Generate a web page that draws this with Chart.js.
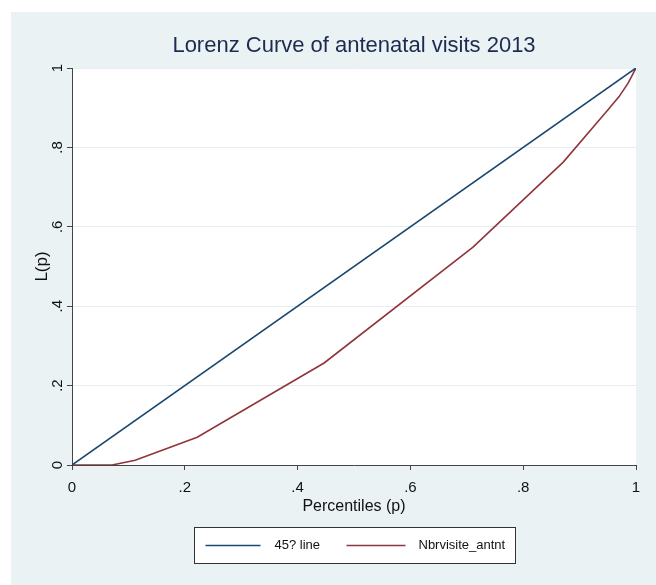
<!DOCTYPE html>
<html>
<head>
<meta charset="utf-8">
<script src="https://cdn.jsdelivr.net/npm/chart.js@4"></script>
<style>
  html, body { margin: 0; padding: 0; background: #ffffff; }
  #wrap { width: 656px; height: 585px; }
</style>
</head>
<body>
<div id="wrap"><canvas id="myChart"></canvas></div>
<script>
// data
const lineP = [0, 1];
const lineL = [0, 1];
const lorenzP = [0, 0.071, 0.112, 0.222, 0.447, 0.711, 0.871, 0.950, 0.970, 0.986, 1];
const lorenzL = [0, 0, 0.012, 0.070, 0.257, 0.549, 0.763, 0.894, 0.928, 0.962, 1];
const seriesNames = ['45? line', 'Nbrvisite_antnt'];
const tickVals = [0, 0.2, 0.4, 0.6, 0.8, 1];
const chartTitle = 'Lorenz Curve of antenatal visits 2013';

const FONT = "'Liberation Sans', Arial, sans-serif";

function fmt(v) {
    if (v === 0) return '0';
    if (v === 1) return '1';
    return String(Math.round(v * 10) / 10).replace(/^0/, '');
}

const data = {
    datasets: [{
            label: seriesNames[0],
            data: lineP.map((p, i) => ({ x: p, y: lineL[i] })),
            borderColor: '#1a476f',
            borderWidth: 1.6,
            showLine: true,
            pointRadius: 0,
            tension: 0
        },
        {
            label: seriesNames[1],
            data: lorenzP.map((p, i) => ({ x: p, y: lorenzL[i] })),
            borderColor: '#90353b',
            borderWidth: 1.6,
            showLine: true,
            pointRadius: 0,
            tension: 0
        }
    ]
};

// background, title, rotated y labels, boxed legend
const stataLook = {
    id: 'stataLook',
    beforeDraw: chart => {
        const ctx = chart.ctx;
        const a = chart.chartArea;
        ctx.save();
        ctx.fillStyle = '#ffffff';
        ctx.fillRect(0, 0, chart.width, chart.height);
        ctx.fillStyle = '#EAF2F3';
        ctx.fillRect(11, 12, chart.width - 11, chart.height - 12);
        ctx.fillStyle = '#ffffff';
        ctx.fillRect(a.left, a.top, a.right - a.left, a.bottom - a.top);
        ctx.restore();
    },
    afterDraw: chart => {
        const ctx = chart.ctx;
        const a = chart.chartArea;
        const cx = (a.left + a.right) / 2;
        const yScale = chart.scales.y;
        ctx.save();

        // title
        ctx.fillStyle = '#1c2b4f';
        ctx.font = '22px ' + FONT;
        ctx.textAlign = 'center';
        ctx.textBaseline = 'middle';
        ctx.fillText(chartTitle, cx, 46);

        // y tick labels, rotated
        ctx.fillStyle = '#111111';
        ctx.font = '15px ' + FONT;
        tickVals.forEach(v => {
            const y = yScale.getPixelForValue(v);
            ctx.save();
            ctx.translate(a.left - 14, y);
            ctx.rotate(-Math.PI / 2);
            ctx.textAlign = 'center';
            ctx.textBaseline = 'middle';
            ctx.fillText(fmt(v), 0, 0);
            ctx.restore();
        });

        // legend box
        const bw = 321, bh = 36;
        const bx = Math.round(cx - bw / 2) + 0.5;
        const by = 527.5;
        ctx.fillStyle = '#ffffff';
        ctx.fillRect(bx, by, bw, bh);
        ctx.strokeStyle = '#333333';
        ctx.lineWidth = 1;
        ctx.strokeRect(bx, by, bw, bh);
        const items = [{ x0: 11, x1: 66, tx: 80 }, { x0: 152, x1: 211, tx: 224 }];
        ctx.font = '13px ' + FONT;
        ctx.textAlign = 'left';
        ctx.textBaseline = 'middle';
        chart.data.datasets.forEach((ds, i) => {
            const it = items[i];
            ctx.strokeStyle = ds.borderColor;
            ctx.lineWidth = 1.6;
            ctx.beginPath();
            ctx.moveTo(bx + it.x0, by + 18);
            ctx.lineTo(bx + it.x1, by + 18);
            ctx.stroke();
            ctx.fillStyle = '#111111';
            ctx.fillText(ds.label, bx + it.tx, by + 18);
        });
        ctx.restore();
    }
};

const config = {
    type: 'scatter',
    data: data,
    options: {
        maintainAspectRatio: false,
        responsive: true,
        animation: false,
        layout: {
            padding: { top: 68, left: 20, right: 20, bottom: 0 }
        },
        plugins: {
            legend: { display: false },
            tooltip: { enabled: false }
        },
        scales: {
            x: {
                type: 'linear',
                min: 0,
                max: 1,
                afterFit: s => { s.height = 120; },
                afterBuildTicks: s => { s.ticks = tickVals.map(v => ({ value: v })); },
                ticks: {
                    color: '#111111',
                    font: { family: FONT, size: 15 },
                    padding: 9,
                    maxRotation: 0,
                    callback: v => fmt(v)
                },
                grid: {
                    drawOnChartArea: false,
                    tickLength: 5,
                    tickColor: '#444444'
                },
                border: { color: '#444444', width: 1 },
                title: {
                    display: true,
                    text: 'Percentiles (p)',
                    color: '#111111',
                    font: { family: FONT, size: 16 },
                    padding: { top: 0, bottom: 69 }
                }
            },
            y: {
                type: 'linear',
                min: 0,
                max: 1,
                afterFit: s => { s.width = 52; },
                afterBuildTicks: s => { s.ticks = tickVals.map(v => ({ value: v })); },
                ticks: {
                    display: false
                },
                grid: {
                    color: '#E6EEF1',
                    lineWidth: 1,
                    tickLength: 5,
                    tickColor: '#444444'
                },
                border: { color: '#444444', width: 1 },
                title: {
                    display: true,
                    text: 'L(p)',
                    color: '#111111',
                    font: { family: FONT, size: 17 },
                    padding: { top: 12, bottom: 0 }
                }
            }
        }
    },
    plugins: [stataLook]
};

const myChart = new Chart(
    document.getElementById('myChart'),
    config
);
</script>
</body>
</html>
